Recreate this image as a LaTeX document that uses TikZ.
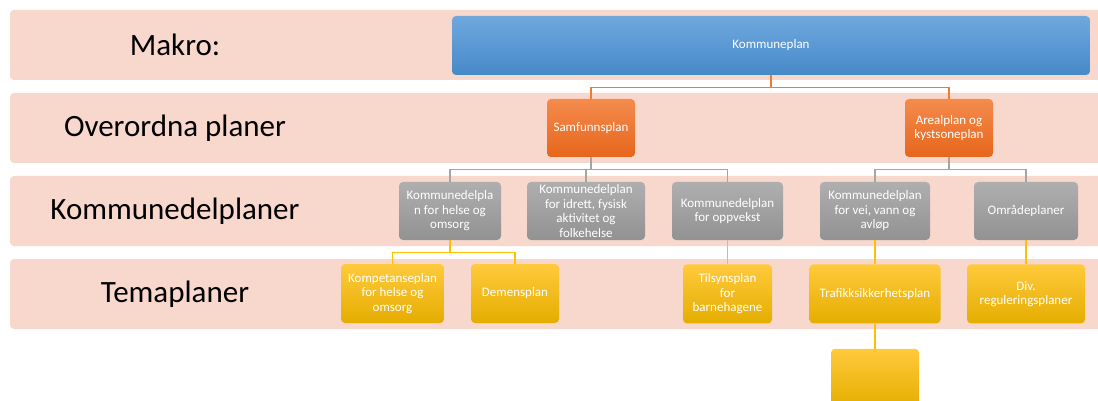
\documentclass[tikz,border=0pt]{standalone}
\usepackage{fontspec}
\setmainfont{Carlito}
\usetikzlibrary{positioning}

\definecolor{bandpink}{HTML}{F8D7CC}
\definecolor{blueTop}{HTML}{70A8DE}
\definecolor{blueBot}{HTML}{4689C8}
\definecolor{orangeTop}{HTML}{F58B4D}
\definecolor{orangeBot}{HTML}{E6661B}
\definecolor{grayTop}{HTML}{AFAFAF}
\definecolor{grayBot}{HTML}{929292}
\definecolor{yelTop}{HTML}{FFCA3C}
\definecolor{yelMid}{HTML}{FFC000}
\definecolor{yelBot}{HTML}{E5AD00}
\definecolor{lineOrange}{HTML}{ED7D31}
\definecolor{lineGray}{HTML}{A5A5A5}
\definecolor{lineYel}{HTML}{FFC000}

\begin{document}
\begin{tikzpicture}[x=1pt,y=-1pt,
		band/.style={fill=bandpink,rounded corners=4pt},
		lbl/.style={font=\fontsize{31}{36}\selectfont},
		box/.style={rounded corners=4pt,align=center,text=white,inner sep=1pt,
			font=\fontsize{13}{14.5}\selectfont},
		bluebox/.style={box,top color=blueTop,bottom color=blueBot,minimum height=59pt},
		orangebox/.style={box,top color=orangeTop,bottom color=orangeBot,minimum height=58pt},
		graybox/.style={box,top color=grayTop,bottom color=grayBot,minimum height=58pt},
		yelbox/.style={box,top color=yelTop,middle color=yelMid,bottom color=yelBot,minimum height=59pt},
		oline/.style={draw=lineOrange,line width=1.2pt},
		gline/.style={draw=lineGray,line width=1.2pt},
		yline/.style={draw=lineYel,line width=1.2pt}]
		\clip (0,0) rectangle (1098,401);
	
		% bands
		\fill[band] (10,10) rectangle (1110,80);
		\fill[band] (10,93) rectangle (1110,163);
		\fill[band] (10,176) rectangle (1110,246);
		\fill[band] (10,259) rectangle (1110,329);
	
		\node[lbl] (makro) at (175,45) {Makro:};
		\node[lbl] (overordna) at (175,128) {Overordna planer};
		\node[lbl] (kdp) at (175,211) {Kommunedelplaner};
		\node[lbl] (tema) at (175,294) {Temaplaner};
	
		% plans
		\node[bluebox,minimum width=638pt] (kp) at (771,45.5) {Kommuneplan};
	
		\node[orangebox,minimum width=88pt] (sp) at (591,128) {Samfunnsplan};
		\node[orangebox,minimum width=88pt] (ap) at (949,128) {Arealplan og\\kystsoneplan};
	
		\node[graybox,minimum width=102pt] (helse) at (450,211) {Kommunedelpla\\n for helse og\\omsorg};
		\node[graybox,minimum width=118pt] (idrett) at (586,211) {Kommunedelplan\\for idrett, fysisk\\aktivitet og\\folkehelse};
		\node[graybox,minimum width=111pt] (oppvekst) at (727.5,211) {Kommunedelplan\\for oppvekst};
		\node[graybox,minimum width=110pt] (vei) at (875,211) {Kommunedelplan\\for vei, vann og\\avløp};
		\node[graybox,minimum width=104pt] (omr) at (1026,211) {Områdeplaner};
	
		\node[yelbox,minimum width=103pt] (komp) at (392.5,293.5) {Kompetanseplan\\for helse og\\omsorg};
		\node[yelbox,minimum width=88pt] (demens) at (515,293.5) {Demensplan};
		\node[yelbox,minimum width=89pt,below=24pt of oppvekst] (tilsyn) {Tilsynsplan\\for\\barnehagene};
		\node[yelbox,minimum width=131pt,below=24pt of vei] (trafikk) {Trafikksikkerhetsplan};
		\node[yelbox,minimum width=118pt,below=24pt of omr] (regul) {Div.\\reguleringsplaner};
		\node[yelbox,minimum width=88pt,below=25pt of trafikk] (tom) {};
	
		\draw[oline] (kp.south) -- ++(0,12) -| (sp.north);
		\draw[oline] (kp.south) -- ++(0,12) -| (ap.north);
	
		\draw[gline] (sp.south) -- ++(0,12) -| (helse.north);
		\draw[gline] (sp.south) -- ++(0,12) -| (idrett.north);
		\draw[gline] (sp.south) -- ++(0,12) -| (oppvekst.north);
		\draw[gline] (ap.south) -- ++(0,12) -| (vei.north);
		\draw[gline] (ap.south) -- ++(0,12) -| (omr.north);
	
		\draw[yline] (helse.south) -- ++(0,12) -| (komp.north);
		\draw[yline] (helse.south) -- ++(0,12) -| (demens.north);
		\draw[yline] (oppvekst.south) -- (tilsyn.north);
		\draw[yline] (vei.south) -- (trafikk.north);
		\draw[yline] (omr.south) -- (regul.north);
		\draw[yline] (trafikk.south) -- (tom.north);
	\end{tikzpicture}
\end{document}
